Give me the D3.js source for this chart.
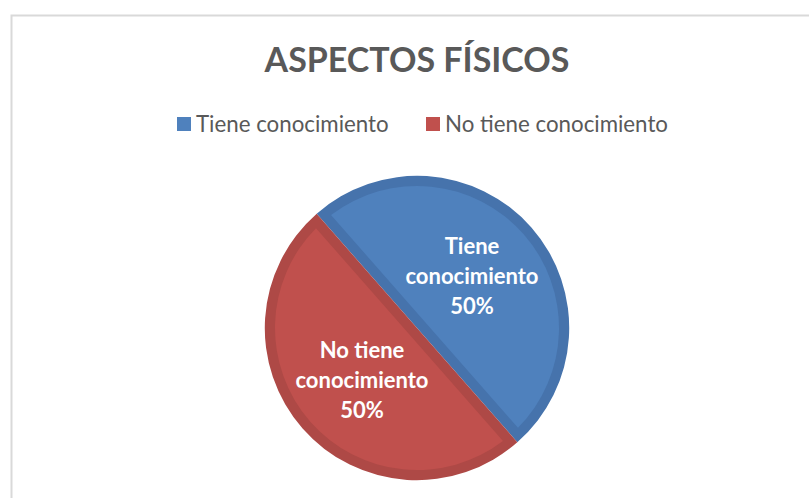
<!DOCTYPE html>
<html><head><meta charset="utf-8">
<script src="https://cdn.jsdelivr.net/npm/d3@7"></script>
<style>body{margin:0;background:#fff}</style>
</head><body>
<script>
const categories = ["Tiene conocimiento", "No tiene conocimiento"];
const values = [50, 50];
const labels = [["Tiene", "conocimiento", "50%"], ["No tiene", "conocimiento", "50%"]];
const title = "ASPECTOS FÍSICOS";

const W = 809, H = 498;
const colors = ["#4F81BD", "#C0504D"];
const rims = ["#4673AC", "#AE4946"];
const font = "Lato, 'Open Sans', sans-serif";

const svg = d3.select("body").append("svg").attr("width", W).attr("height", H);
svg.append("rect").attr("x", 11.5).attr("y", 15.5).attr("width", 810).attr("height", 500)
  .attr("fill", "#fff").attr("stroke", "#D9D9D9").attr("stroke-width", 2);

svg.append("text").attr("x", 417).attr("y", 72).attr("text-anchor", "middle")
  .attr("font-family", font).attr("font-weight", "bold").attr("font-size", 34)
  .attr("fill", "#595959").text(title);

const legendX = [177, 426];
const lg = svg.append("g");
categories.forEach((c, i) => {
  lg.append("rect").attr("x", legendX[i]).attr("y", 117).attr("width", 14).attr("height", 14).attr("fill", colors[i]);
  lg.append("text").attr("x", legendX[i] + 19).attr("y", 132).attr("font-family", font)
    .attr("font-size", 22.3).attr("fill", "#595959").text(c);
});

const cx = 417, cy = 328, r = 152, d = 10;
const startA = -41.3 * Math.PI / 180;
const pie = d3.pie().sort(null).startAngle(startA).endAngle(startA + 2 * Math.PI);
const arcs = pie(values);
const arc = d3.arc().innerRadius(0).outerRadius(r);
const g = svg.append("g").attr("transform", `translate(${cx},${cy})`);
arcs.forEach((a, i) => {
  g.append("path").attr("d", arc(a)).attr("fill", rims[i]);
  const mid = (a.startAngle + a.endAngle) / 2 - Math.PI / 2;
  const R = r - d;
  const h = Math.acos(d / R);
  const p = d3.path();
  p.arc(0, 0, R, mid - h, mid + h);
  p.closePath();
  g.append("path").attr("d", p.toString()).attr("fill", colors[i]);
});
const labelPos = [[472, 247], [362, 351]];
arcs.forEach((a, i) => {
  const t = svg.append("text").attr("text-anchor", "middle").attr("font-family", font)
    .attr("font-weight", "bold").attr("font-size", 22).attr("fill", "#fff");
  labels[i].forEach((l, j) => {
    t.append("tspan").attr("x", labelPos[i][0]).attr("y", labelPos[i][1] + 7 + j * 30).text(l);
  });
});
</script>
</body></html>
